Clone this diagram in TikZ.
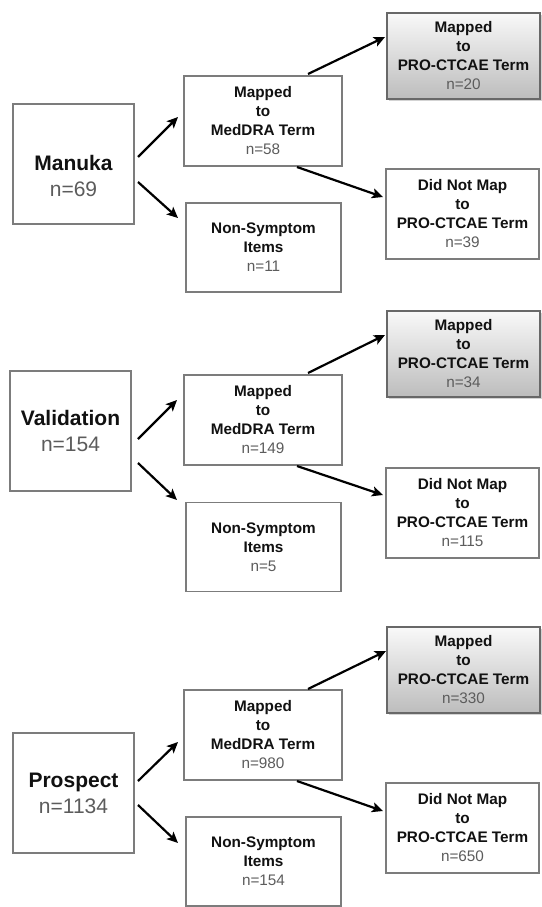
\documentclass[tikz,border=0pt]{standalone}
\usepackage{fontspec}
\setmainfont{Liberation Sans}
\usetikzlibrary{arrows.meta,shadows}
\definecolor{boxgray}{HTML}{7C7C7C}
\definecolor{proborder}{HTML}{686868}
\definecolor{textdark}{HTML}{111111}
\definecolor{ngray}{HTML}{5C5C5C}
\newcommand\ncount[1]{{\mdseries\color{ngray}n=#1}}
\tikzset{
  box/.style={draw=boxgray, line width=1.9pt, fill=white, align=center, inner sep=0pt,
    text=textdark, font=\bfseries\fontsize{15.3}{19}\selectfont},
  bigbox/.style={box, minimum width=121pt, minimum height=120pt,
    font=\bfseries\fontsize{21}{26}\selectfont},
  midbox/.style={box, minimum width=158pt, minimum height=90pt},
  nonbox/.style={box, minimum width=155pt, minimum height=89pt},
  dnmbox/.style={box, minimum width=153pt, minimum height=90pt},
  probox/.style={box, draw=proborder, minimum width=153pt, minimum height=86pt,
    top color=gray!5, bottom color=gray!52,
    drop shadow={shadow xshift=1.5pt, shadow yshift=-1.8pt, opacity=0.35}},
  arr/.style={-{Stealth[length=11pt,width=10pt,inset=2.5pt]}, line width=2.2pt, black}
}
\begin{document}
\begin{tikzpicture}[x=1pt,y=-1pt]
\useasboundingbox (0,0) rectangle (541,907);
% ---------- Group 1: Manuka ----------
\node[bigbox] (manuka) at (73.5,164) {\rule{0pt}{40pt}Manuka\\\ncount{69}};
\node[midbox] (med1) at (263,121) {Mapped\\to\\MedDRA Term\\\ncount{58}};
\node[nonbox] (non1) at (263.5,247.5) {Non-Symptom\\Items\\\ncount{11}};
\node[probox] (pro1) at (463.5,56) {Mapped\\to\\PRO-CTCAE Term\\\ncount{20}};
\node[dnmbox] (dnm1) at (462.5,214) {Did Not Map\\to\\PRO-CTCAE Term\\\ncount{39}};
\draw[arr] ([shift={(64.5,-7)}]manuka.center) -- ([shift={(-85,-4)}]med1.center);
\draw[arr] ([shift={(64.5,18)}]manuka.center) -- ([shift={(-85.5,-29.5)}]non1.center);
\draw[arr] ([shift={(45,-47)}]med1.center) -- ([shift={(-78.5,-19)}]pro1.center);
\draw[arr] ([shift={(34,46)}]med1.center) -- ([shift={(-79.5,-17)}]dnm1.center);
% ---------- Group 2: Validation ----------
\node[bigbox] (val) at (70.5,431) {Validation\\\ncount{154}};
\node[midbox] (med2) at (263,420) {Mapped\\to\\MedDRA Term\\\ncount{149}};
\node[nonbox] (non2) at (263.5,547) {Non-Symptom\\Items\\\ncount{5}};
\node[probox] (pro2) at (463.5,354) {Mapped\\to\\PRO-CTCAE Term\\\ncount{34}};
\node[dnmbox] (dnm2) at (462.5,513) {Did Not Map\\to\\PRO-CTCAE Term\\\ncount{115}};
\draw[arr] ([shift={(67.5,8)}]val.center) -- ([shift={(-86,-20)}]med2.center);
\draw[arr] ([shift={(67.5,32)}]val.center) -- ([shift={(-86.5,-47)}]non2.center);
\draw[arr] ([shift={(45,-47)}]med2.center) -- ([shift={(-78.5,-19)}]pro2.center);
\draw[arr] ([shift={(34,46)}]med2.center) -- ([shift={(-79.5,-18)}]dnm2.center);
% ---------- Group 3: Prospect ----------
\node[bigbox] (pros) at (73.5,793) {Prospect\\\ncount{1134}};
\node[midbox] (med3) at (263,735) {Mapped\\to\\MedDRA Term\\\ncount{980}};
\node[nonbox] (non3) at (263.5,861.5) {Non-Symptom\\Items\\\ncount{154}};
\node[probox] (pro3) at (463.5,670) {Mapped\\to\\PRO-CTCAE Term\\\ncount{330}};
\node[dnmbox] (dnm3) at (462.5,828) {Did Not Map\\to\\PRO-CTCAE Term\\\ncount{650}};
\draw[arr] ([shift={(64.5,-12)}]pros.center) -- ([shift={(-85,7)}]med3.center);
\draw[arr] ([shift={(64.5,12)}]pros.center) -- ([shift={(-85.5,-18.5)}]non3.center);
\draw[arr] ([shift={(45,-46)}]med3.center) -- ([shift={(-77.5,-19)}]pro3.center);
\draw[arr] ([shift={(34,46)}]med3.center) -- ([shift={(-79.5,-17)}]dnm3.center);
\end{tikzpicture}
\end{document}
